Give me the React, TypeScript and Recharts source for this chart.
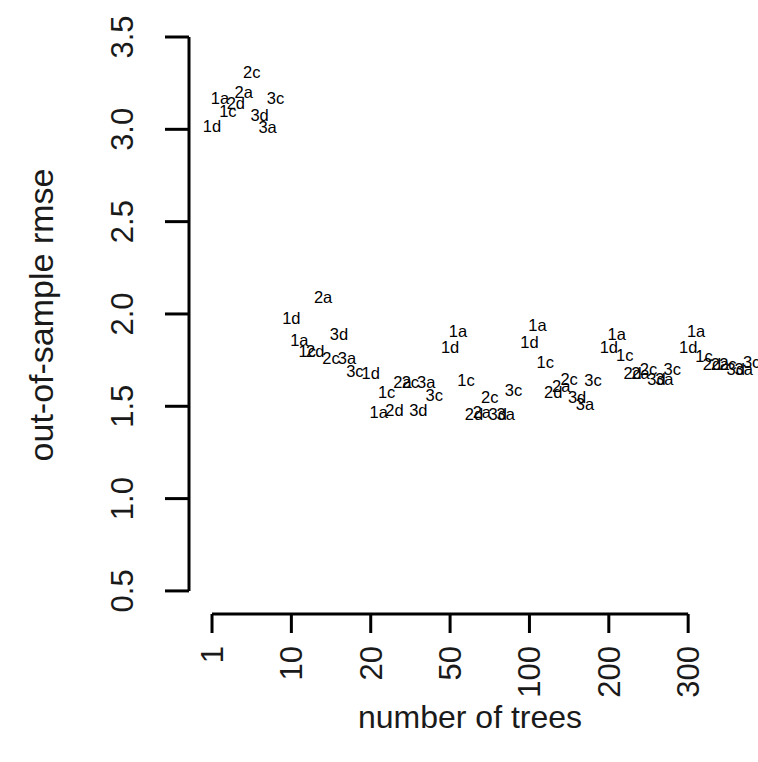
import { ScatterChart, Scatter, XAxis, YAxis, ReferenceLine } from 'recharts';

// number of trees (categorical positions 1..7 on the x axis)
const treeCounts = ['1', '10', '20', '50', '100', '200', '300'];

// label order inside each group, left to right
const methods = ['1d', '1a', '1c', '2d', '2a', '2c', '3d', '3a', '3c'];

// out-of-sample rmse per method, one value per tree count
const rmse1d = [3.02, 1.98, 1.68, 1.82, 1.85, 1.82, 1.82];
const rmse1a = [3.17, 1.86, 1.47, 1.91, 1.94, 1.89, 1.91];
const rmse1c = [3.10, 1.80, 1.58, 1.64, 1.74, 1.78, 1.77];
const rmse2d = [3.14, 1.80, 1.48, 1.46, 1.58, 1.68, 1.73];
const rmse2a = [3.20, 2.09, 1.63, 1.47, 1.61, 1.68, 1.73];
const rmse2c = [3.31, 1.76, 1.63, 1.55, 1.65, 1.70, 1.73];
const rmse3d = [3.08, 1.89, 1.48, 1.46, 1.55, 1.65, 1.70];
const rmse3a = [3.01, 1.76, 1.63, 1.46, 1.51, 1.65, 1.70];
const rmse3c = [3.17, 1.69, 1.56, 1.59, 1.64, 1.70, 1.74];

const yTicks = [0.5, 1.0, 1.5, 2.0, 2.5, 3.0, 3.5];

const series: Record<string, number[]> = {
  '1d': rmse1d, '1a': rmse1a, '1c': rmse1c,
  '2d': rmse2d, '2a': rmse2a, '2c': rmse2c,
  '3d': rmse3d, '3a': rmse3a, '3c': rmse3c,
};

// labels are dodged within a group like R's text() call did
const DODGE = 0.1;
const points = methods.flatMap((m, k) =>
  series[m].map((v, i) => ({ x: i + 1 + k * DODGE, y: v, label: m }))
);

const X_DOMAIN: [number, number] = [0.71, 7.88];
const Y_DOMAIN: [number, number] = [0.375, 3.5];
const xTicks = treeCounts.map((_, i) => i + 1);

const FONT = '"Liberation Sans", Arial, Helvetica, sans-serif';
const AXIS = { stroke: '#000', strokeWidth: 3 };

const XTick = ({ x, y, payload }: any) => (
  <text
    transform={`translate(${x + 11},${y + 11}) rotate(-90)`}
    textAnchor="end"
    fontSize={31}
    fontFamily={FONT}
    fill="#1a1a1a"
  >
    {treeCounts[payload.value - 1]}
  </text>
);

const YTick = ({ x, y, payload }: any) => (
  <text
    transform={`translate(${x - 30},${y}) rotate(-90)`}
    textAnchor="middle"
    fontSize={31}
    fontFamily={FONT}
    fill="#1a1a1a"
  >
    {payload.value.toFixed(1)}
  </text>
);

const PointLabel = ({ cx, cy, payload }: any) => (
  <text
    x={cx}
    y={cy}
    textAnchor="middle"
    dominantBaseline="central"
    fontSize={16.5}
    fontFamily={FONT}
    fill="#000"
  >
    {payload.label}
  </text>
);

const XTitle = () => (
  <text x={470} y={728} textAnchor="middle" fontSize={32} fontFamily={FONT} fill="#1a1a1a">
    number of trees
  </text>
);

const YTitle = () => (
  <text
    transform="translate(53,315) rotate(-90)"
    textAnchor="middle"
    fontSize={34}
    fontFamily={FONT}
    fill="#1a1a1a"
  >
    out-of-sample rmse
  </text>
);

export default function App() {
  return (
    <div style={{ position: 'absolute', left: 0, top: 0, background: '#fff' }}>
      <ScatterChart width={758} height={762} margin={{ top: 37, right: 0, bottom: 0, left: 0 }}>
        <XAxis
          type="number"
          dataKey="x"
          domain={X_DOMAIN}
          ticks={xTicks}
          interval={0}
          allowDataOverflow
          axisLine={false}
          tickLine={AXIS}
          tickSize={19}
          tick={<XTick />}
          height={148}
          label={<XTitle />}
        />
        <YAxis
          type="number"
          dataKey="y"
          domain={Y_DOMAIN}
          ticks={yTicks}
          interval={0}
          allowDataOverflow
          axisLine={false}
          tickLine={AXIS}
          tickSize={24}
          tick={<YTick />}
          width={189}
          label={<YTitle />}
        />
        <ReferenceLine
          segment={[{ x: 1, y: Y_DOMAIN[0] }, { x: 7, y: Y_DOMAIN[0] }]}
          ifOverflow="visible"
          {...AXIS}
        />
        <ReferenceLine
          segment={[{ x: X_DOMAIN[0], y: 0.5 }, { x: X_DOMAIN[0], y: 3.5 }]}
          ifOverflow="visible"
          {...AXIS}
        />
        <Scatter data={points} shape={<PointLabel />} isAnimationActive={false} />
      </ScatterChart>
    </div>
  );
}
